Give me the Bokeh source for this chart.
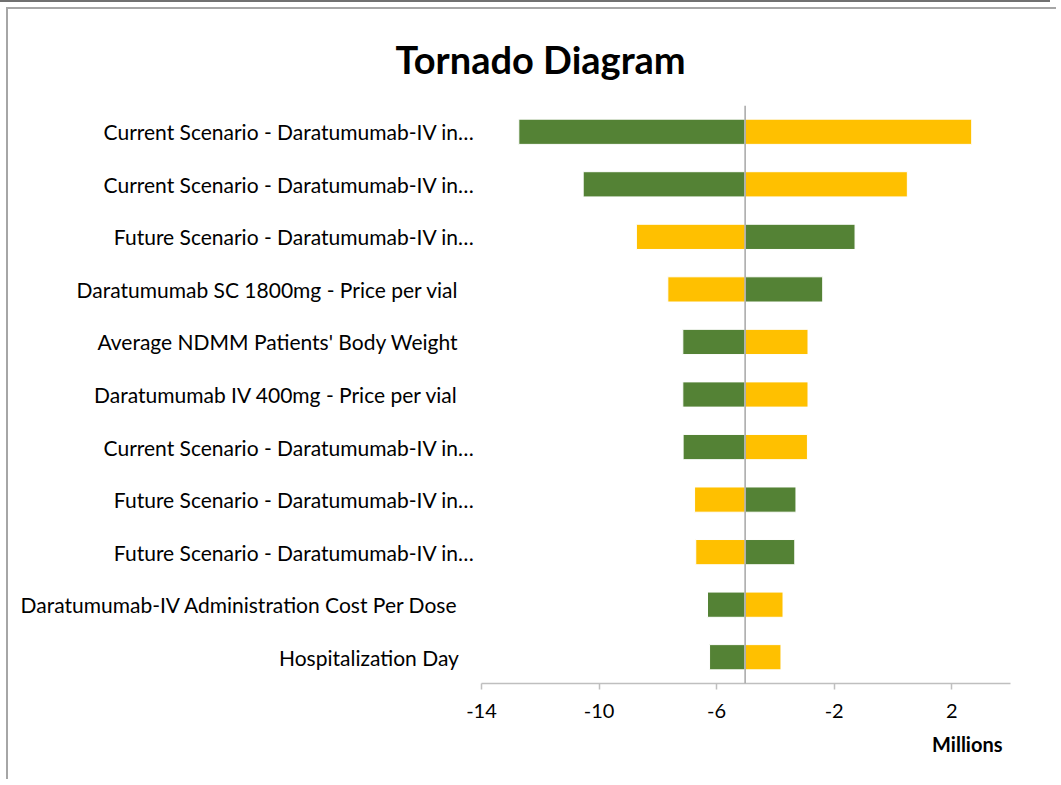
from bokeh.plotting import figure
from bokeh.models import Range1d, FixedTicker, Span, Title, ColumnDataSource
from bokeh.embed import file_html
from bokeh.resources import INLINE

# ---- data (values in millions) ----
parameters = [
    "Current Scenario - Daratumumab-IV in…",
    "Current Scenario - Daratumumab-IV in…",
    "Future Scenario - Daratumumab-IV in…",
    "Daratumumab SC 1800mg - Price per vial",
    "Average NDMM Patients' Body Weight",
    "Daratumumab IV 400mg - Price per vial",
    "Current Scenario - Daratumumab-IV in…",
    "Future Scenario - Daratumumab-IV in…",
    "Future Scenario - Daratumumab-IV in…",
    "Daratumumab-IV Administration Cost Per Dose",
    "Hospitalization Day",
]
green_values = [-12.73, -10.54, -1.29, -2.39, -7.15, -7.15, -7.14, -3.30, -3.34, -6.31, -6.24]
yellow_values = [2.68, 0.49, -8.73, -7.66, -2.89, -2.89, -2.91, -6.75, -6.71, -3.74, -3.81]
base_value = -5.03
x_ticks = [-14, -10, -6, -2, 2]
x_min, x_max = -14, 4

GREEN = "#548235"
YELLOW = "#FFC000"
FONT = "Lato"

n = len(parameters)
rows = list(range(n, 0, -1))

def bar_source(vals):
    return ColumnDataSource(dict(
        y=rows,
        left=[min(v, base_value) for v in vals],
        right=[max(v, base_value) for v in vals],
    ))

W, H = 1050, 772
p = figure(width=W, height=H, output_backend="svg", toolbar_location=None,
           x_range=Range1d(x_min, x_max), y_range=Range1d(0.5, n + 0.5),
           min_border_left=473, min_border_right=48, min_border_top=96, min_border_bottom=98)
p.styles = {"border-top": "2px solid #A6A6A6", "border-left": "2px solid #A6A6A6",
            "margin-left": "6px", "margin-top": "7px",
            "box-shadow": "-6px -5px 0 0 #ffffff, -6px -7px 0 0 #707070"}
p.outline_line_color = None
p.xgrid.visible = False
p.ygrid.visible = False

# title (positioned relative to the frame's left edge)
p.title = Title(text="Tornado Diagram", align="left", offset=-86, standoff=48,
                text_font=FONT, text_font_size="38px", text_font_style="bold",
                text_color="#000000")

p.hbar(y="y", left="left", right="right", height=0.48, source=bar_source(green_values),
       fill_color=GREEN, line_color="white", line_width=1)
p.hbar(y="y", left="left", right="right", height=0.48, source=bar_source(yellow_values),
       fill_color=YELLOW, line_color="white", line_width=1)

p.add_layout(Span(location=base_value, dimension="height", line_color="#A6A6A6", line_width=1.5))

ax = p.xaxis[0]
ax.ticker = FixedTicker(ticks=x_ticks)
ax.major_label_overrides = {t: str(t) for t in x_ticks}
ax.axis_line_color = "#BFBFBF"
ax.axis_line_width = 1.5
ax.major_tick_line_color = "#BFBFBF"
ax.major_tick_line_width = 1.5
ax.major_tick_out = 6
ax.major_tick_in = 0
ax.minor_tick_line_color = None
ax.major_label_text_font = FONT
ax.major_label_text_font_size = "20px"
ax.major_label_text_color = "#000000"
ax.major_label_standoff = 14

# category labels on the y axis (shorter, untruncated labels sit a little further left)
ay = p.yaxis[0]
ay.ticker = FixedTicker(ticks=rows)
ay.major_label_overrides = {r: (name if name.endswith("…") else name + "\u00a0" * 3)
                            for name, r in zip(parameters, rows)}
ay.axis_line_color = None
ay.major_tick_line_color = None
ay.minor_tick_line_color = None
ay.major_tick_out = 0
ay.major_tick_in = 0
ay.major_label_standoff = 7
ay.major_label_text_font = FONT
ay.major_label_text_font_size = "21px"
ay.major_label_text_color = "#000000"

p.add_layout(Title(text="Millions", align="right", offset=8, standoff=19,
                   text_font=FONT, text_font_size="20px", text_font_style="bold",
                   text_color="#000000"), "below")

open("out.html", "w").write(file_html(p, INLINE))
